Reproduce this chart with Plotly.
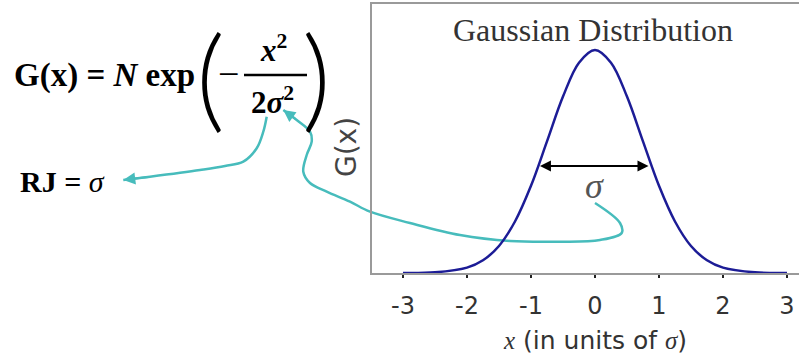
import plotly.graph_objects as go

# gaussian curve (x in units of sigma, height relative to the peak)
sigma_x = [-3.0, -2.5, -2.0, -1.75, -1.5, -1.25, -1.0, -0.75, -0.5, -0.25, 0.0,
           0.25, 0.5, 0.75, 1.0, 1.25, 1.5, 1.75, 2.0, 2.5, 3.0]
g_vals = [0.0, 0.003, 0.024, 0.057, 0.121, 0.231, 0.391, 0.590, 0.791, 0.943, 1.0,
          0.943, 0.791, 0.590, 0.391, 0.231, 0.121, 0.057, 0.024, 0.003, 0.0]
tick_vals = [-3, -2, -1, 0, 1, 2, 3]
tick_text = ["-3", "-2", "-1", "0", "1", "2", "3"]

# width arrow on the curve
arrow_x = [-0.86, 0.86]
arrow_y = 0.48

# cyan guide strokes, in page pixels
guide1_x = [266.7, 263.3, 256.7, 243.3, 225, 200, 150, 123.3]
guide1_y = [116.7, 131.7, 148.3, 161.7, 166, 170, 176.7, 180]
guide2_x = [595, 620, 621.7, 600, 560, 510, 460, 410, 370, 350, 326.7, 310, 303.3,
            306.7, 311.7, 310, 296.7, 283.3]
guide2_y = [203, 223, 233, 240, 241.7, 241, 235, 223, 211.7, 201.7, 191.7, 183, 171.7,
            155, 141.7, 131.7, 120, 110]

W, H = 799, 358
SERIF = "Liberation Serif, Times New Roman, serif"
SANS = "DejaVu Sans, Verdana, sans-serif"
CYAN = "#47bcbc"
NAVY = "#1c1c96"

fig = go.Figure()

# guide layer (full page, pixel coords)
fig.add_trace(go.Scatter(x=guide1_x, y=guide1_y, mode="lines", xaxis="x", yaxis="y",
                         line=dict(color=CYAN, width=2.5, shape="spline"), hoverinfo="skip"))
fig.add_trace(go.Scatter(x=guide2_x, y=guide2_y, mode="lines", xaxis="x", yaxis="y",
                         line=dict(color=CYAN, width=2.5, shape="spline"), hoverinfo="skip"))

# the gaussian plot
fig.add_trace(go.Scatter(x=sigma_x, y=g_vals, mode="lines", xaxis="x2", yaxis="y2",
                         line=dict(color=NAVY, width=2.5, shape="spline"), cliponaxis=False))

ann = []
# arrow heads of the guides
ann.append(dict(x=guide1_x[-1], y=guide1_y[-1], ax=guide1_x[-2], ay=guide1_y[-2],
                xref="x", yref="y", axref="x", ayref="y", text="", showarrow=True,
                arrowhead=2, arrowsize=1.2, arrowwidth=2, arrowcolor=CYAN))
ann.append(dict(x=guide2_x[-1], y=guide2_y[-1], ax=guide2_x[-2], ay=guide2_y[-2],
                xref="x", yref="y", axref="x", ayref="y", text="", showarrow=True,
                arrowhead=2, arrowsize=1.2, arrowwidth=2, arrowcolor=CYAN))
# sigma width arrow
ann.append(dict(x=arrow_x[0], y=arrow_y, ax=arrow_x[1], ay=arrow_y,
                xref="x2", yref="y2", axref="x2", ayref="y2", text="", showarrow=True,
                arrowhead=2, arrowside="end+start", arrowsize=1.1, arrowwidth=2, arrowcolor="black"))


def txt(x, y, s, size, family=SERIF, color="black", angle=0, weight=None):
    f = dict(family=family, size=size, color=color)
    if weight:
        f["weight"] = weight
    ann.append(dict(x=x, y=y, xref="x", yref="y", text=s, showarrow=False,
                    textangle=angle, font=f))


txt(594, 186, "<i>σ</i>", 36, color="#555")
txt(593, 30, "Gaussian Distribution", 32, color="#333")
txt(346, 147, "G(x)", 28, family=SANS, color="#444", angle=-90)
txt(595, 340, "<i style='font-family:Liberation Serif'>x</i> (in units of <i style='font-family:Liberation Serif'>σ</i>)",
    25, family=SANS, color="#333")

# formula
txt(104, 75, "<b>G(x) = <i>N</i> exp</b>", 33)
txt(210, 74, "(", 112, family="Lato", weight=300)
txt(316, 74, ")", 112, family="Lato", weight=300)
txt(228, 74, "−", 38)
txt(273, 48, "<b><i>x</i></b><sup><b>2</b></sup>", 31)
txt(272, 100, "<b>2<i>σ</i></b><sup><b>2</b></sup>", 31)
txt(62, 181, "<b>RJ = </b><i>σ</i>", 30)

fig.update_layout(
    width=W, height=H,
    margin=dict(l=0, r=0, t=0, b=0, pad=0, autoexpand=False),
    paper_bgcolor="white", plot_bgcolor="rgba(0,0,0,0)",
    showlegend=False,
    annotations=ann,
    shapes=[dict(type="line", xref="x", yref="y", x0=244, x1=307, y0=75, y1=75,
                 line=dict(color="black", width=2.5))],
    xaxis=dict(domain=[0, 1], range=[0, W], visible=False, fixedrange=True, automargin=False),
    yaxis=dict(domain=[0, 1], range=[H, 0], visible=False, fixedrange=True, automargin=False),
    xaxis2=dict(domain=[372 / W, 1], range=[-3.484, 3.1875], anchor="y2", automargin=False,
                tickvals=tick_vals, ticktext=tick_text, ticks="outside", ticklen=3,
                tickwidth=2, tickcolor="#222", showgrid=False, zeroline=False,
                showline=True, linecolor="#9a9a9a", linewidth=2, mirror=True,
                ticklabelstandoff=7,
                tickfont=dict(family=SANS, size=24, color="#333")),
    yaxis2=dict(domain=[(H - 273) / H, (H - 4) / H], range=[0, 1.206], anchor="x2",
                automargin=False, showticklabels=False, ticks="", showgrid=False,
                zeroline=False, showline=True, linecolor="#9a9a9a", linewidth=2),
)

# page body has an 8px default margin, drop it so the figure sits at the corner
fig.write_html("out.html", config={"displayModeBar": False},
               post_script="document.body.style.margin='0';")
